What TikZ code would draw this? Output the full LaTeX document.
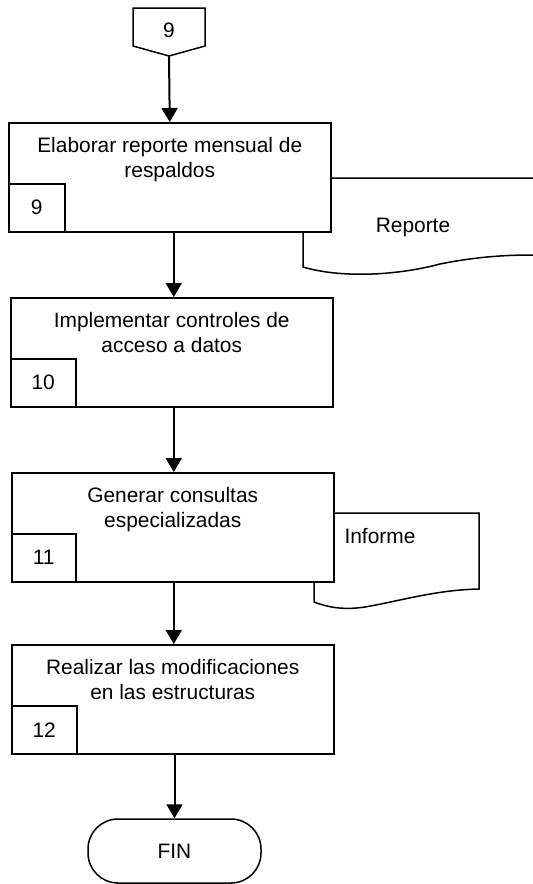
\documentclass[tikz,border=0pt]{standalone}
\usepackage{fontspec}
\setmainfont{Liberation Sans}
\usetikzlibrary{arrows.meta}

\tikzset{
	proc/.style = {draw, line width=1.5pt, fill=white, inner sep=0pt,
		minimum width=322pt, minimum height=109pt, anchor=north west},
	numbox/.style = {draw, line width=1.5pt, fill=white, inner sep=0pt,
		minimum height=48pt, anchor=south west},
	proctext/.style = {anchor=north, align=center},
	flow/.style = {line width=2pt, -{Triangle[length=14pt, width=16pt]}},
	doc/.style = {line width=1.5pt},
}

\begin{document}
\begin{tikzpicture}[x=1pt, y=-1pt, every node/.append style={font=\fontsize{20.9}{25}\selectfont}]
	\useasboundingbox (0,0) rectangle (533,884);
	% documentos (detras de los procesos)
	\draw[doc] (533,178) -- (303,178) -- (303,267) .. controls (340,278) and (395,276) .. (440,264) .. controls (480,256) and (510,255) .. (533,255);
		\node[] (reporte) at (413,227) {Reporte};
	\draw[doc] (479,513) -- (314,513) -- (314,602) .. controls (330,608) and (345,610) .. (365,607) .. controls (400,601) and (435,590) .. (479,589) -- cycle;
		\node[anchor=west] (informe) at (341,536) {Informe};
	% conector de pagina
	\draw[doc] (133,8) -- (205,8) -- (205,46) -- (169,56) -- (133,46) -- cycle;
		\node[] (c9) at (169,30) {9};
		\coordinate (c9tip) at (169,56);
	% procesos
	\node[proc] (p9) at (8,122) {};
		\node[proctext] (t9) at ([yshift=-12pt]p9.north) {Elaborar reporte mensual de\\respaldos};
		\node[numbox, minimum width=56pt] (n9) at (p9.south west) {9};
	\node[proc] (p10) at (10,297) {};
		\node[proctext] (t10) at ([yshift=-12pt]p10.north) {Implementar controles de\\acceso a datos};
		\node[numbox, minimum width=65pt] (n10) at (p10.south west) {10};
	\node[proc] (p11) at (11,472) {};
		\node[proctext] (t11) at ([yshift=-12pt]p11.north) {Generar consultas\\especializadas};
		\node[numbox, minimum width=64pt] (n11) at (p11.south west) {11};
	\node[proc] (p12) at (11,644) {};
		\node[proctext] (t12) at ([yshift=-12pt]p12.north) {Realizar las modificaciones\\en las estructuras};
		\node[numbox, minimum width=65pt] (n12) at (p12.south west) {12};
	\node[draw, line width=1.5pt, rounded corners=30pt, minimum width=173pt, minimum height=64pt] (fin) at (174.5,851) {FIN};
	% flechas
	\draw[flow] (c9tip) -- (p9.north);
	\draw[flow] ([xshift=2pt]p10.north |- p9.south) -- ([xshift=2pt]p10.north);
	\draw[flow] ([xshift=1pt]p11.north |- p10.south) -- ([xshift=1pt]p11.north);
	\draw[flow] ([xshift=1pt]p12.north |- p11.south) -- ([xshift=1pt]p12.north);
	\draw[flow] (fin.north |- p12.south) -- (fin.north);
\end{tikzpicture}
\end{document}
